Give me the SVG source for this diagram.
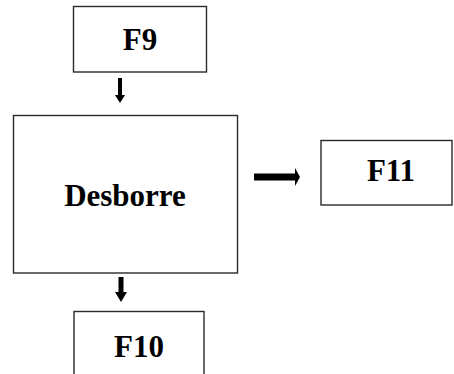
<svg xmlns="http://www.w3.org/2000/svg" width="454" height="374" viewBox="0 0 454 374">
  <style>
    .box { fill: #ffffff; stroke: #2a2a2a; stroke-width: 1.4; }
    .lbl { font-family: "Liberation Serif", "Times New Roman", serif; font-weight: bold; font-size: 31px; fill: #000000; text-anchor: middle; }
    .arrow { fill: #000000; stroke: none; }
  </style>
  <rect width="454" height="374" fill="#ffffff"/>

  <!-- connectors: block arrows between the stages -->
  <g id="connectors">
    <polygon class="arrow" points="118,78 122,78 122,95 125,95 120,103 115,95 118,95"/>
    <polygon class="arrow" points="118.5,277 123.5,277 123.5,292 127,292 121,302 115,292 118.5,292"/>
    <polygon class="arrow" points="254,173.5 295,173.5 295,168 300,177 295,186 295,180.5 254,180.5"/>
  </g>

  <g id="node-f9">
    <rect class="box" x="73.5" y="6.5" width="133" height="65.5"/>
    <text class="lbl" x="140" y="50">F9</text>
  </g>

  <g id="node-desborre">
    <rect class="box" x="13.5" y="115.5" width="224" height="157.5"/>
    <text class="lbl" x="125" y="206">Desborre</text>
  </g>

  <g id="node-f11">
    <rect class="box" x="321" y="140.5" width="131" height="64.5"/>
    <text class="lbl" x="391" y="181">F11</text>
  </g>

  <g id="node-f10">
    <rect class="box" x="74" y="311.5" width="130" height="70"/>
    <text class="lbl" x="139" y="357">F10</text>
  </g>
</svg>
